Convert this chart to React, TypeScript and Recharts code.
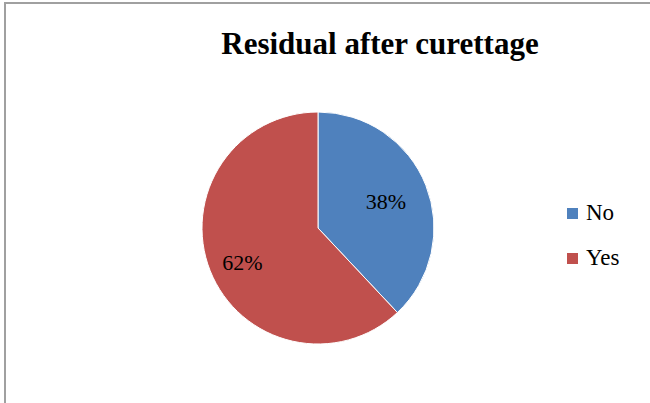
import React from "react";
import { PieChart, Pie, Cell, Legend } from "recharts";

const categories = ["No", "Yes"];
const values = [38, 62];
const colors = ["#4F81BD", "#C0504D"];
const title = "Residual after curettage";

const data = categories.map((name, i) => ({ name, value: values[i] }));

const RAD = Math.PI / 180;
const SERIF = "'Liberation Serif', 'Tinos', 'Times New Roman', 'DejaVu Serif', serif";

const renderLabel = (props: any) => {
  const { cx, cy, midAngle, outerRadius, value, index } = props;
  const r = outerRadius * (index === 0 ? 0.63 : 0.7);
  const x = cx + r * Math.cos(-midAngle * RAD);
  const y = cy + r * Math.sin(-midAngle * RAD) + (index === 0 ? 0 : 5);
  return (
    <text
      x={x}
      y={y}
      textAnchor="middle"
      dominantBaseline="central"
      fill="#000"
      fontFamily={SERIF}
      fontSize={22}
    >
      {`${value}%`}
    </text>
  );
};

const LegendContent = () => (
  <div style={{ fontFamily: SERIF, fontSize: 23, color: "#000" }}>
    {data.map((d, i) => (
      <div key={d.name} style={{ display: "flex", alignItems: "center", height: 26, marginBottom: i === 0 ? 19 : 0 }}>
        <div style={{ width: 11, height: 11, background: colors[i], marginRight: 8 }} />
        <span>{d.name}</span>
      </div>
    ))}
  </div>
);

export default function App() {
  return (
    <div style={{ position: "absolute", left: 0, top: 0, width: 650, height: 403, overflow: "hidden", background: "#fff" }}>
      <div
        style={{
          position: "absolute",
          left: 4,
          top: 2,
          width: 700,
          height: 500,
          border: "2px solid #A0A0A0",
          boxSizing: "border-box",
        }}
      />
      <div
        style={{
          position: "absolute",
          left: 0,
          top: 24,
          width: 760,
          textAlign: "center",
          fontFamily: SERIF,
          fontWeight: "bold",
          fontSize: 31,
          lineHeight: "40px",
          color: "#000",
        }}
      >
        {title}
      </div>
      <div style={{ position: "absolute", left: 0, top: 0 }}>
        <PieChart width={650} height={403}>
          <Pie
            data={data}
            dataKey="value"
            nameKey="name"
            cx={313}
            cy={223}
            outerRadius={116}
            startAngle={90}
            endAngle={-270}
            stroke="#fff"
            strokeWidth={1}
            label={renderLabel}
            labelLine={false}
            isAnimationActive={false}
          >
            {data.map((d, i) => (
              <Cell key={d.name} fill={colors[i]} />
            ))}
          </Pie>
          <Legend
            layout="vertical"
            align="right"
            verticalAlign="top"
            content={<LegendContent />}
            wrapperStyle={{ position: "absolute", left: 567, top: 200, width: 80 }}
          />
        </PieChart>
      </div>
    </div>
  );
}
